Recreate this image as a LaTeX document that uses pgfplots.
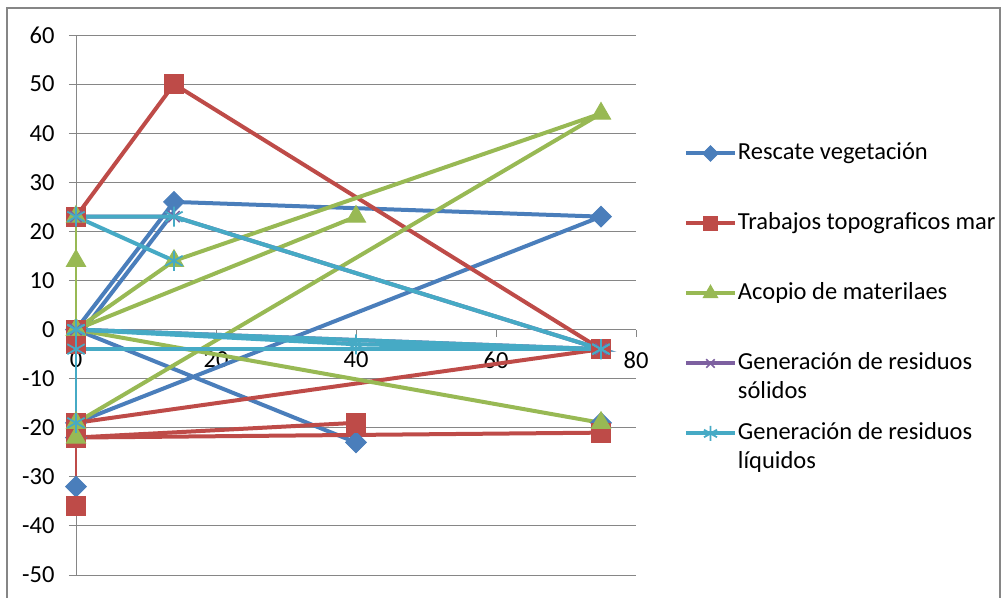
\documentclass[border=0pt]{standalone}
\usepackage{pgfplots}
\pgfplotsset{compat=1.18}
\usepackage{fontspec}
\setmainfont{Carlito}
\definecolor{cblue}{HTML}{4A7EBB}
\definecolor{cred}{HTML}{BE4B48}
\definecolor{cgreen}{HTML}{98B954}
\definecolor{cpurple}{HTML}{7D60A0}
\definecolor{ccyan}{HTML}{46AAC5}
\definecolor{gridgray}{HTML}{868686}
\pgfplotsset{
  sblue/.style={color=cblue, line width=4pt, mark=square*, mark size=7.3pt, mark options={rotate=45, line width=1pt, solid}},
  sred/.style={color=cred, line width=4pt, mark=square*, mark size=9.5pt, mark options={line width=1pt, solid}},
  sgreen/.style={color=cgreen, line width=4pt, mark=triangle*, mark size=11pt, mark options={line width=1pt, solid}},
  spurple/.style={color=cpurple, line width=4pt, mark=x, mark size=8pt, mark options={line width=1.5pt, solid}},
  scyan/.style={color=ccyan, line width=4pt, mark=asterisk, mark size=10pt, mark options={line width=1.8pt, solid}},
}
\begin{document}
\begin{tikzpicture}[x=1pt,y=1pt]
\useasboundingbox (0,0) rectangle (1003,-597);
\draw[color=gridgray, line width=1.5pt] (7,-600) -- (7,-8) -- (1000,-8) -- (1000,-600);
\begin{axis}[
  at={(76pt,-575pt)}, anchor=south west,
  scale only axis, width=560pt, height=540pt,
  xmin=0, xmax=80, ymin=-50, ymax=60,
  axis x line=middle, axis y line=left,
  axis line style={-, draw=gridgray, line width=1pt},
  xtick={0,20,40,60,80}, ytick={-50,-40,...,60},
  hide obscured x ticks=false, hide obscured y ticks=false,
  tick align=outside, major tick length=7pt,
  tick style={draw=gridgray, line width=1pt},
  ymajorgrids, grid style={draw=gridgray, line width=1pt},
  ticklabel style={font=\fontsize{24.5}{29}\selectfont},
  yticklabel style={xshift=-11pt},
  xticklabel style={yshift=-12pt},
  /pgf/number format/assume math mode=true,
  clip=false,
  legend cell align=left,
  legend style={at={(1.0857,0.8056)}, anchor=north west, draw=none, fill=none,
    inner sep=0pt, outer sep=0pt, row sep=0pt, column sep=1pt,
    font=\fontsize{24.5}{29}\selectfont,
    nodes={inner sep=0pt, text height=20pt, text depth=50pt, anchor=base west}},
  legend image code/.code={\draw[yshift=6.5pt, mark repeat=2, mark phase=2, #1, every mark/.append style={scale=0.75}] plot coordinates {(0pt,0pt) (24.5pt,0pt) (49pt,0pt)};},
]
% blue
\addplot[sblue] coordinates {(40,-23) (0,0) (14,26) (75,23) (0,-19)};
\addlegendentry{Rescate vegetación}
\addplot[forget plot, sblue, mark=none] coordinates {(0,-2) (14,24)};
\addplot[forget plot, sblue, only marks] coordinates {(0,-32) (75,-19) (0,-22)};
% red
\addplot[sred] coordinates {(0,-19) (75,-4) (14,50) (0,23)};
\addlegendentry{Trabajos topograficos mar}
\addplot[forget plot, sred, line width=2pt] coordinates {(0,-36) (0,-22)};
\addplot[forget plot, sred] coordinates {(0,-22) (40,-19)};
\addplot[forget plot, sred] coordinates {(0,-22) (75,-21)};
\addplot[forget plot, sred, only marks] coordinates {(0,0) (0,-3)};
% green
\addplot[sgreen] coordinates {(0,0) (14,14) (75,44) (0,-19) (0,-22)};
\addlegendentry{Acopio de materilaes}
\addplot[forget plot, sgreen, line width=2pt] coordinates {(0,0) (0,14) (0,23)};
\addplot[forget plot, sgreen] coordinates {(40,23) (0,0) (75,-19)};
% purple
\addplot[spurple] coordinates {(0,23) (14,23) (75,-4) (0,0)};
\addlegendentry{\parbox[t]{270pt}{Generación de residuos\\sólidos}}
% cyan
\addplot[scyan] coordinates {(14,14) (0,23) (14,23) (75,-4) (0,0)};
\addlegendentry{\parbox[t]{270pt}{Generación de residuos\\líquidos}}
\addplot[forget plot, scyan, line width=2pt] coordinates {(0,0) (0,-19)};
\addplot[forget plot, scyan] coordinates {(0,-4) (75,-4)};
\addplot[forget plot, scyan] coordinates {(0,0) (40,-3) (75,-4)};
\end{axis}
\end{tikzpicture}
\end{document}
